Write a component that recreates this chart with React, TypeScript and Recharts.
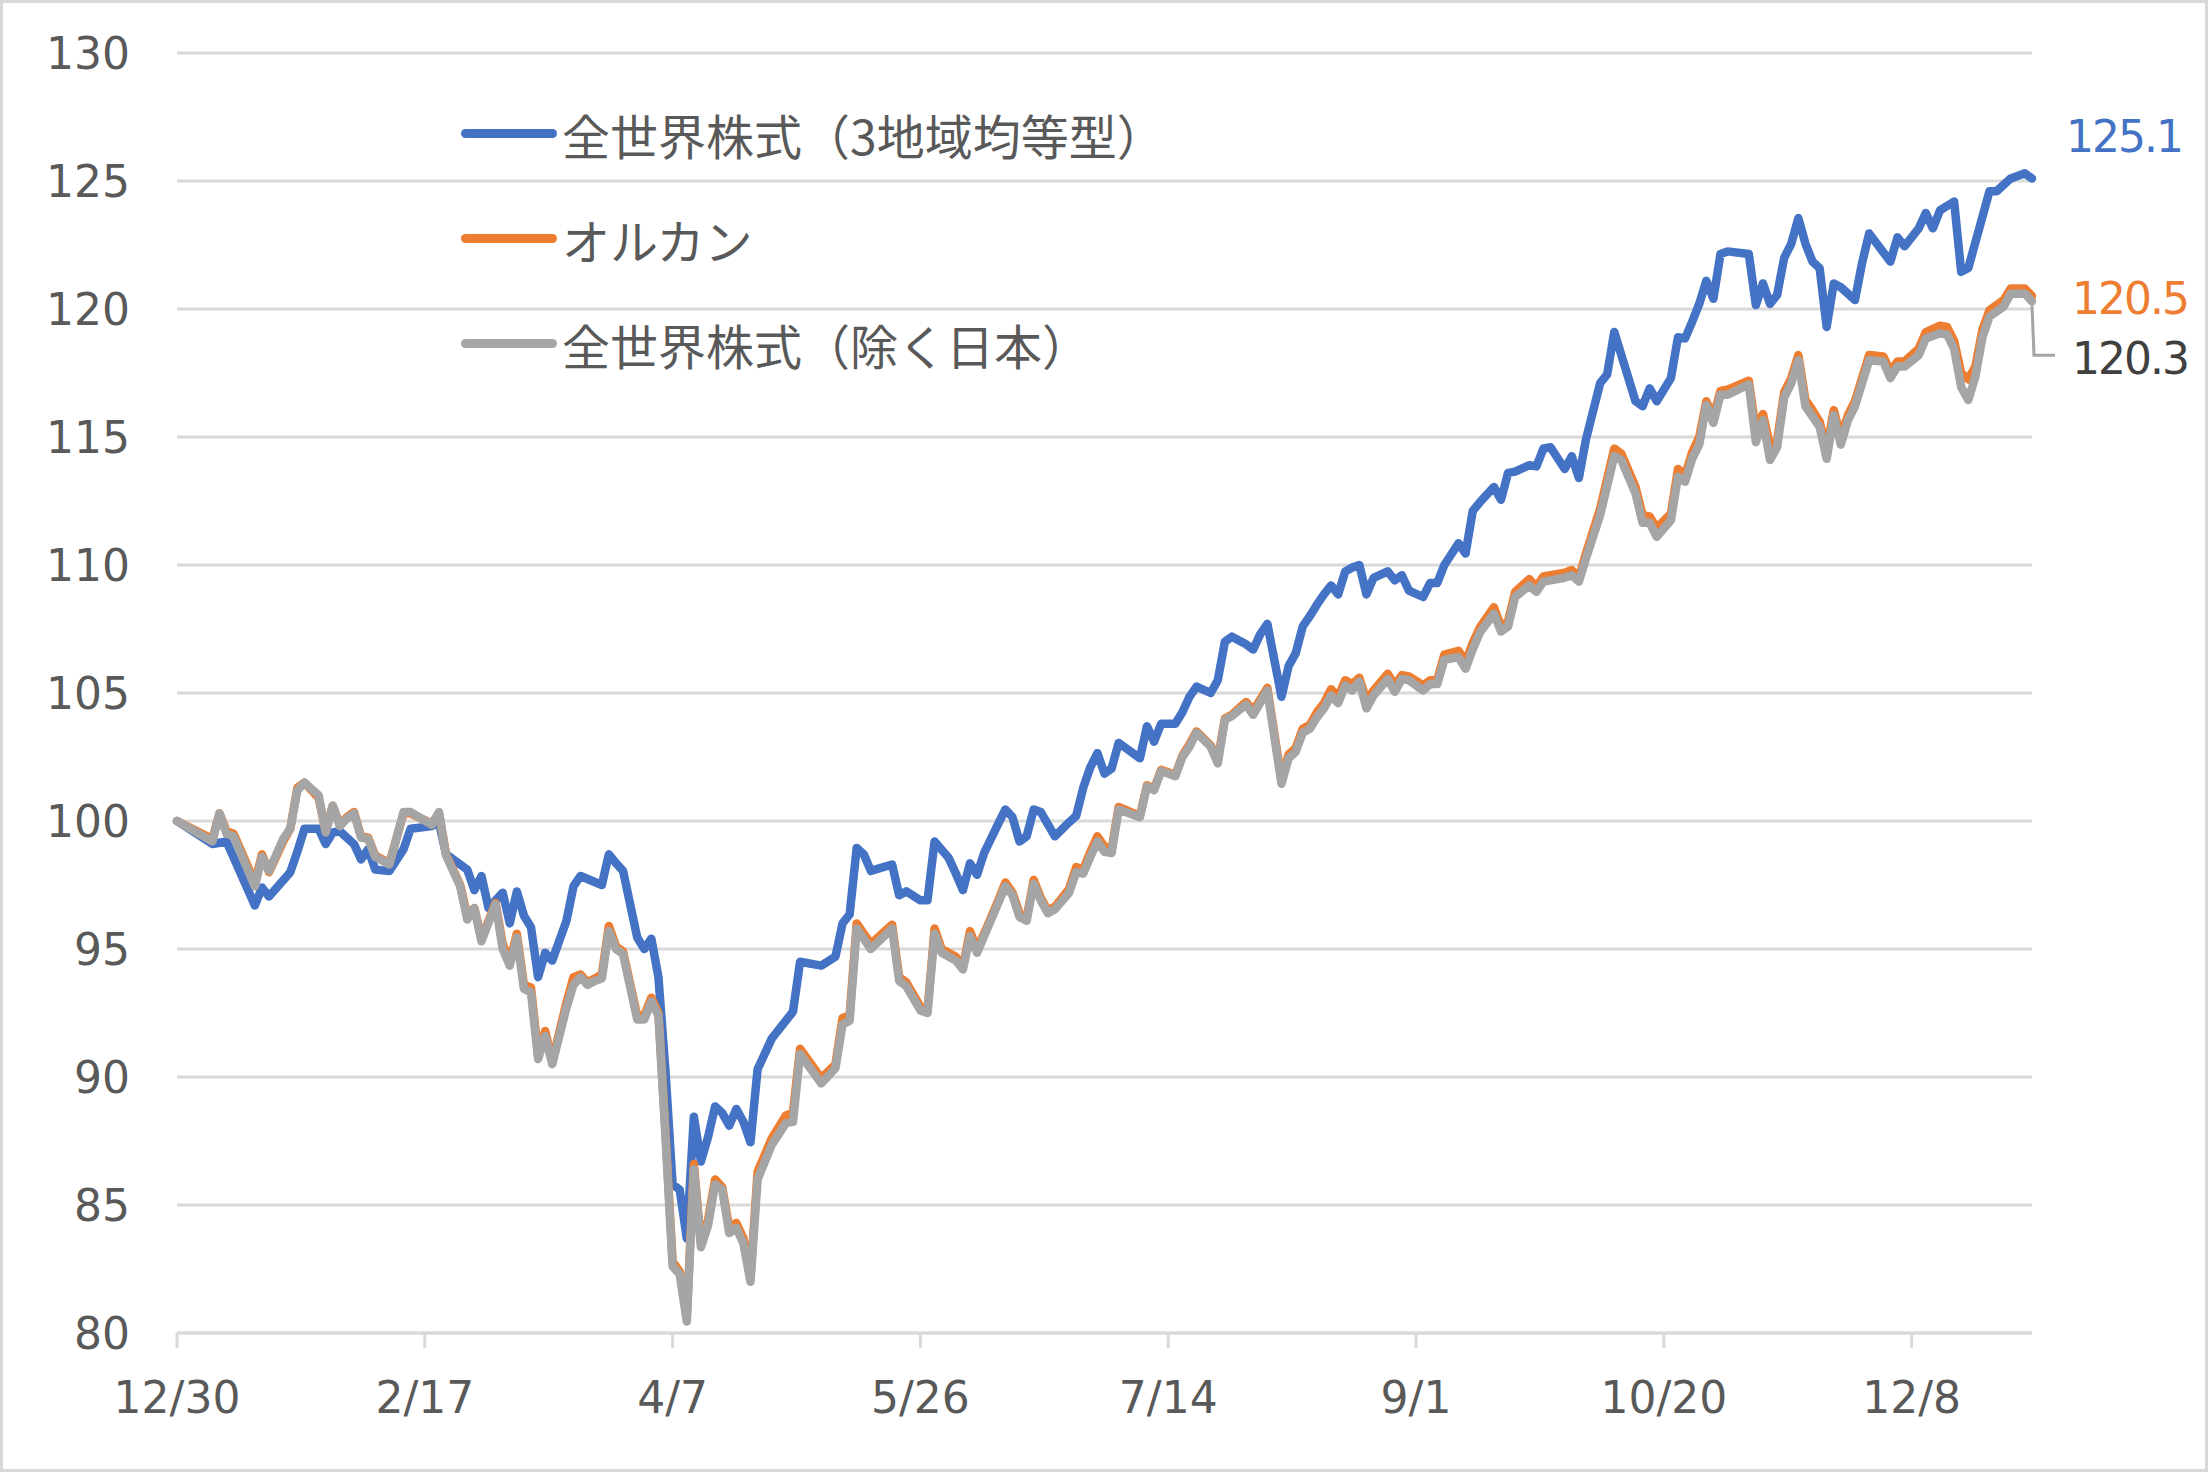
import React from "react";
import { CartesianGrid, Line, LineChart, XAxis, YAxis } from "recharts";

// trading-day index of each date tick on the x axis
const tickDays = [0, 35, 70, 105, 140, 175, 210, 245];
const tickLabels = ["12/30", "2/17", "4/7", "5/26", "7/14", "9/1", "10/20", "12/8"];
const yTicks = [80, 85, 90, 95, 100, 105, 110, 115, 120, 125, 130];

const seriesNames = ["全世界株式（3地域均等型）", "オルカン", "全世界株式（除く日本）"];
const seriesColors = ["#4472C4", "#ED7D31", "#A5A5A5"];

// 全世界株式（3地域均等型）
const blueDays = [
  0, 5, 7, 11, 12, 13, 16, 17, 18, 20, 21, 22, 23, 25, 26, 27, 28, 30, 32, 33,
  36, 37, 38, 41, 42, 43, 44, 46, 47, 48, 49, 50, 51, 52, 53, 55, 56, 57, 60, 61,
  62, 63, 65, 66, 67, 68, 69, 70, 71, 72, 73, 74, 75, 76, 77, 78, 79, 80, 81, 82,
  84, 86, 87, 88, 91, 93, 94, 95, 96, 97, 98, 101, 102, 103, 105, 106, 107, 109, 110, 111,
  112, 113, 114, 116, 117, 118, 119, 120, 121, 122, 124, 126, 127, 128, 129, 130, 131, 132, 133, 136,
  137, 138, 139, 141, 142, 143, 144, 146, 147, 148, 149, 151, 152, 153, 154, 156, 157, 158, 159, 160,
  161, 162, 163, 164, 165, 166, 167, 168, 169, 171, 172, 173, 174, 176, 177, 178, 179, 181, 182, 183,
  184, 186, 187, 188, 189, 191, 192, 193, 194, 196, 197, 198, 199, 201, 202, 203, 206, 207, 208, 209,
  211, 212, 213, 214, 215, 216, 217, 218, 219, 222, 223, 224, 225, 226, 227, 228, 229, 230, 231, 232,
  233, 234, 235, 237, 238, 239, 242, 243, 244, 246, 247, 248, 249, 251, 252, 253, 256, 257, 259, 261,
  262,
];
const blueValues = [
  100.0, 99.1, 99.2, 96.7, 97.4, 97.05, 98.0, 98.8, 99.7, 99.7, 99.1, 99.55, 99.6, 99.1, 98.5, 98.9, 98.1, 98.05, 98.9, 99.7,
  99.8, 99.95, 98.7, 98.1, 97.3, 97.85, 96.6, 97.2, 96.0, 97.25, 96.3, 95.85, 93.9, 94.85, 94.55, 96.1, 97.45, 97.85, 97.5, 98.7,
  98.35, 98.05, 95.45, 95.0, 95.4, 93.9, 90.2, 85.8, 85.6, 83.7, 88.45, 86.7, 87.65, 88.85, 88.6, 88.1, 88.75, 88.25, 87.45, 90.3,
  91.5, 92.2, 92.55, 94.5, 94.35, 94.7, 96.0, 96.35, 98.95, 98.7, 98.05, 98.3, 97.1, 97.25, 96.9, 96.9, 99.2, 98.55, 97.95, 97.3,
  98.35, 97.9, 98.75, 99.9, 100.45, 100.15, 99.2, 99.4, 100.45, 100.35, 99.4, 99.95, 100.2, 101.3, 102.1, 102.65, 101.85, 102.05, 103.05, 102.45,
  103.7, 103.1, 103.8, 103.8, 104.25, 104.85, 105.25, 105.0, 105.5, 107.0, 107.2, 106.9, 106.7, 107.3, 107.7, 104.85, 106.05, 106.55, 107.6, 108.0,
  108.45, 108.85, 109.2, 108.85, 109.75, 109.9, 110.0, 108.85, 109.5, 109.75, 109.4, 109.6, 109.0, 108.75, 109.3, 109.3, 110.0, 110.85, 110.45, 112.1,
  112.45, 113.05, 112.55, 113.6, 113.65, 113.9, 113.85, 114.55, 114.6, 113.75, 114.25, 113.4, 114.9, 117.1, 117.45, 119.1, 116.4, 116.2, 116.9, 116.4,
  117.3, 118.9, 118.85, 119.5, 120.2, 121.1, 120.4, 122.15, 122.25, 122.15, 120.15, 121.0, 120.2, 120.55, 122.0, 122.55, 123.55, 122.55, 121.85, 121.6,
  119.3, 121.0, 120.85, 120.35, 121.8, 122.95, 121.85, 122.8, 122.45, 123.15, 123.75, 123.15, 123.85, 124.2, 121.45, 121.6, 124.6, 124.6, 125.1, 125.3,
  125.1,
];

// オルカン and 全世界株式（除く日本） share the same dates
const grayDays = [
  0, 5, 6, 7, 8, 11, 12, 13, 15, 16, 17, 18, 20, 21, 22, 23, 24, 25, 26, 27,
  28, 30, 32, 33, 36, 37, 38, 40, 41, 42, 43, 45, 46, 47, 48, 49, 50, 51, 52, 53,
  55, 56, 57, 58, 59, 60, 61, 62, 63, 65, 66, 67, 68, 69, 70, 71, 72, 73, 74, 75,
  76, 77, 78, 79, 80, 81, 82, 84, 86, 87, 88, 91, 93, 94, 95, 96, 98, 101, 102, 103,
  105, 106, 107, 108, 110, 111, 112, 113, 114, 116, 117, 118, 119, 120, 121, 122, 123, 124, 126, 127,
  128, 129, 130, 131, 132, 133, 136, 137, 138, 139, 141, 142, 143, 144, 146, 147, 148, 149, 151, 152,
  154, 156, 157, 158, 159, 160, 161, 162, 163, 164, 165, 166, 167, 168, 169, 171, 172, 173, 174, 176,
  177, 178, 179, 181, 182, 183, 184, 186, 187, 188, 189, 191, 192, 193, 194, 196, 197, 198, 199, 201,
  203, 204, 206, 207, 208, 209, 211, 212, 213, 214, 215, 216, 217, 218, 219, 222, 223, 224, 225, 226,
  227, 228, 229, 230, 231, 232, 233, 234, 235, 236, 237, 239, 241, 242, 243, 244, 246, 247, 249, 250,
  251, 252, 253, 254, 255, 256, 258, 259, 261, 262,
];
const orangeValues = [
  100.0, 99.3, 100.3, 99.6, 99.5, 97.6, 98.7, 98.0, 99.2, 99.7, 101.3, 101.5, 100.9, 99.6, 100.6, 99.85, 100.15, 100.35, 99.4, 99.35,
  98.65, 98.35, 100.3, 100.3, 99.9, 100.3, 98.7, 97.5, 96.3, 96.6, 95.4, 96.8, 95.2, 94.5, 95.6, 93.6, 93.5, 90.9, 91.8, 90.6,
  92.9, 93.9, 94.0, 93.7, 93.85, 94.0, 95.9, 95.1, 94.9, 92.4, 92.4, 93.1, 92.5, 87.8, 82.8, 82.4, 80.6, 86.6, 83.5, 84.4,
  86.0, 85.7, 84.1, 84.3, 83.7, 82.2, 86.3, 87.6, 88.5, 88.6, 91.1, 89.95, 90.5, 92.3, 92.4, 96.0, 95.2, 95.95, 93.9, 93.7,
  92.75, 92.6, 95.8, 95.0, 94.7, 94.3, 95.7, 95.0, 95.6, 96.9, 97.6, 97.2, 96.4, 96.2, 97.7, 97.0, 96.5, 96.65, 97.35, 98.2,
  98.1, 98.8, 99.4, 99.0, 98.9, 100.55, 100.2, 101.4, 101.25, 102.0, 101.8, 102.55, 103.0, 103.5, 102.95, 102.4, 104.0, 104.15, 104.65, 104.3,
  105.2, 101.6, 102.6, 102.85, 103.6, 103.75, 104.25, 104.6, 105.15, 104.85, 105.5, 105.35, 105.6, 104.7, 105.1, 105.75, 105.3, 105.7, 105.65, 105.3,
  105.5, 105.5, 106.5, 106.65, 106.2, 106.95, 107.55, 108.35, 107.6, 107.8, 108.95, 109.45, 109.15, 109.55, 109.6, 109.7, 109.8, 109.5, 110.45, 112.2,
  114.55, 114.35, 113.05, 111.95, 111.9, 111.45, 112.0, 113.75, 113.5, 114.4, 115.0, 116.4, 115.8, 116.8, 116.85, 117.2, 115.25, 115.9, 114.65, 114.85,
  116.75, 117.3, 118.2, 116.45, 116.05, 115.6, 114.5, 116.05, 115.0, 115.85, 116.4, 118.2, 118.15, 117.55, 117.95, 117.95, 118.45, 119.1, 119.35, 119.3,
  118.75, 117.5, 117.25, 117.75, 119.2, 119.95, 120.35, 120.8, 120.8, 120.5,
];
const grayValues = [
  100.0, 99.2, 100.3, 99.5, 99.4, 97.45, 98.6, 98.05, 99.3, 99.7, 101.2, 101.5, 101.0, 99.55, 100.6, 99.8, 100.1, 100.3, 99.35, 99.3,
  98.6, 98.3, 100.35, 100.35, 99.85, 100.35, 98.65, 97.45, 96.15, 96.6, 95.3, 96.75, 95.0, 94.35, 95.45, 93.45, 93.3, 90.7, 91.6, 90.5,
  92.7, 93.6, 93.9, 93.6, 93.75, 93.85, 95.7, 95.0, 94.8, 92.25, 92.25, 92.95, 92.4, 87.65, 82.6, 82.3, 80.45, 86.4, 83.35, 84.2,
  85.8, 85.6, 83.9, 84.1, 83.5, 82.0, 86.0, 87.35, 88.2, 88.25, 90.9, 89.75, 90.35, 92.05, 92.2, 95.8, 95.0, 95.8, 93.75, 93.55,
  92.6, 92.5, 95.6, 94.85, 94.55, 94.2, 95.5, 94.85, 95.5, 96.8, 97.45, 97.1, 96.25, 96.1, 97.55, 96.9, 96.4, 96.55, 97.2, 98.0,
  97.95, 98.6, 99.2, 98.8, 98.75, 100.45, 100.15, 101.35, 101.2, 101.95, 101.75, 102.5, 102.9, 103.45, 102.9, 102.25, 103.95, 104.1, 104.55, 104.15,
  105.1, 101.45, 102.45, 102.7, 103.45, 103.6, 104.05, 104.4, 104.9, 104.6, 105.3, 105.1, 105.45, 104.4, 104.9, 105.55, 105.05, 105.55, 105.5, 105.1,
  105.35, 105.35, 106.3, 106.4, 105.95, 106.7, 107.35, 108.1, 107.4, 107.6, 108.75, 109.2, 108.95, 109.35, 109.4, 109.5, 109.6, 109.35, 110.25, 111.95,
  114.25, 114.1, 112.8, 111.65, 111.65, 111.1, 111.75, 113.45, 113.25, 114.15, 114.7, 116.25, 115.55, 116.65, 116.65, 117.05, 114.8, 115.65, 114.1, 114.6,
  116.55, 117.1, 118.0, 116.2, 115.8, 115.4, 114.15, 115.85, 114.7, 115.65, 116.2, 118.0, 117.95, 117.3, 117.75, 117.75, 118.2, 118.85, 119.05, 119.0,
  118.45, 116.95, 116.45, 117.35, 118.9, 119.7, 120.1, 120.6, 120.6, 120.3,
];

const toRows = (days: number[], values: number[]) =>
  days.map((d, i) => ({ d, v: values[i] }));

const blueData = toRows(blueDays, blueValues);
const orangeData = toRows(grayDays, orangeValues);
const grayData = toRows(grayDays, grayValues);

const numFont = "'DejaVu Sans', Verdana, sans-serif";
const jpFont = "'Noto Sans CJK JP', 'Noto Sans', sans-serif";

// value label at the last point of a series
const endLabel =
  (count: number, color: string, dx: number, dy: number, leader = false) =>
  (props: any) => {
    const { x, y, index, value } = props;
    if (index !== count - 1) return null;
    return (
      <g>
        {leader && (
          <polyline
            points={`${x},${y + 4} ${x + 2},${y + dy - 3} ${x + 23},${y + dy - 3}`}
            fill="none"
            stroke="#A5A5A5"
            strokeWidth={3}
          />
        )}
        <text
          x={x + dx}
          y={y + dy}
          fill={color}
          fontSize={44}
          letterSpacing={-2}
          fontFamily={numFont}
          dominantBaseline="central"
        >
          {Number(value).toFixed(1)}
        </text>
      </g>
    );
  };

export default function App() {
  return (
    <div style={{ position: "absolute", left: 0, top: 0, width: 2208, height: 1472, background: "#fff" }}>
      <LineChart width={2208} height={1472} margin={{ top: 53, right: 176, bottom: 39, left: 47 }}>
        <CartesianGrid vertical={false} stroke="#D9D9D9" strokeWidth={3} />
        <XAxis
          type="number"
          dataKey="d"
          domain={[0, 262]}
          ticks={tickDays}
          interval={0}
          tickFormatter={(v: number) => tickLabels[tickDays.indexOf(v)]}
          height={100}
          axisLine={{ stroke: "#D9D9D9", strokeWidth: 3 }}
          tickLine={{ stroke: "#D9D9D9", strokeWidth: 3 }}
          tickSize={15}
          tickMargin={34}
          tick={{ fill: "#595959", fontSize: 44, fontFamily: numFont }}
        />
        <YAxis
          type="number"
          domain={[80, 130]}
          ticks={yTicks}
          interval={0}
          width={130}
          axisLine={false}
          tickLine={false}
          tickSize={0}
          tickMargin={47}
          tick={{ fill: "#595959", fontSize: 44, fontFamily: numFont }}
        />
        <Line
          data={blueData}
          dataKey="v"
          name={seriesNames[0]}
          stroke={seriesColors[0]}
          strokeWidth={8.5}
          strokeLinejoin="round"
          strokeLinecap="round"
          dot={false}
          isAnimationActive={false}
          label={endLabel(blueData.length, seriesColors[0], 34, -42)}
        />
        <Line
          data={orangeData}
          dataKey="v"
          name={seriesNames[1]}
          stroke={seriesColors[1]}
          strokeWidth={8.5}
          strokeLinejoin="round"
          strokeLinecap="round"
          dot={false}
          isAnimationActive={false}
          label={endLabel(orangeData.length, seriesColors[1], 40, 2)}
        />
        <Line
          data={grayData}
          dataKey="v"
          name={seriesNames[2]}
          stroke={seriesColors[2]}
          strokeWidth={8.5}
          strokeLinejoin="round"
          strokeLinecap="round"
          dot={false}
          isAnimationActive={false}
          label={endLabel(grayData.length, "#404040", 40, 57, true)}
        />
      </LineChart>

      <div style={{ position: "absolute", left: 461, top: 81 }}>
        {seriesNames.map((name, i) => (
          <div key={name} style={{ display: "flex", alignItems: "center", height: 105 }}>
            <span
              style={{
                display: "inline-block",
                width: 96,
                height: 9,
                borderRadius: 5,
                background: seriesColors[i],
                marginRight: 5,
              }}
            />
            <span
              style={{
                fontFamily: jpFont,
                fontSize: 48,
                lineHeight: 1,
                color: "#595959",
                whiteSpace: "nowrap",
              }}
            >
              {name}
            </span>
          </div>
        ))}
      </div>

      <div
        style={{
          position: "absolute",
          inset: 0,
          border: "3px solid #D9D9D9",
          pointerEvents: "none",
        }}
      />
    </div>
  );
}
